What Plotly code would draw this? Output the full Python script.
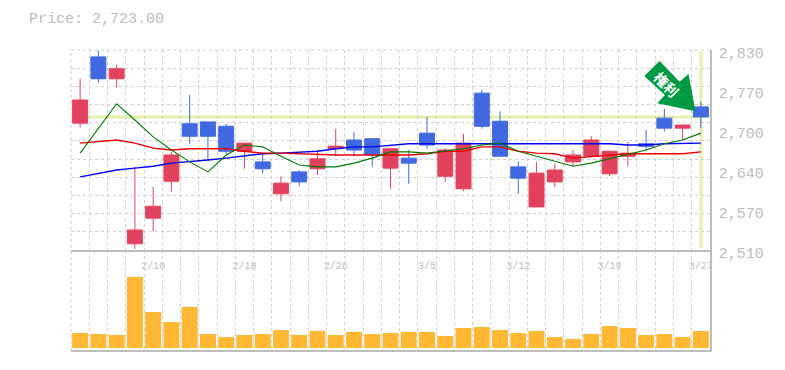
import plotly.graph_objects as go

# --- data ---
dates = ["2/10", "2/18", "2/26", "3/5", "3/12", "3/19", "3/27"]
date_positions = [4, 9, 14, 19, 24, 29, 34]
price_ticks = [2830, 2766, 2702, 2638, 2574, 2510]
price_tick_text = ["2,830", "2,770", "2,700", "2,640", "2,570", "2,510"]

highs = [2784, 2829, 2806, 2643, 2611, 2667, 2758, 2715, 2712, 2681, 2665, 2628,
         2638, 2670, 2704, 2699, 2689, 2672, 2670, 2723, 2673, 2696, 2766, 2732,
         2652, 2651, 2648, 2670, 2692, 2668, 2683, 2702, 2736, 2710, 2747]
opens = [2713, 2819, 2784, 2520, 2561, 2620, 2712, 2715, 2708, 2668, 2651, 2600,
         2635, 2640, 2672, 2686, 2688, 2641, 2657, 2697, 2628, 2608, 2761, 2716,
         2643, 2579, 2619, 2651, 2660, 2632, 2660, 2680, 2721, 2705, 2739]
closes = [2750, 2784, 2800, 2542, 2580, 2662, 2692, 2692, 2668, 2681, 2640, 2617,
          2619, 2656, 2676, 2670, 2662, 2672, 2649, 2678, 2670, 2681, 2708, 2660,
          2625, 2633, 2638, 2662, 2686, 2668, 2665, 2676, 2705, 2710, 2723]
lows = [2706, 2778, 2770, 2512, 2540, 2604, 2680, 2654, 2664, 2640, 2633, 2588,
        2612, 2630, 2660, 2660, 2643, 2608, 2616, 2672, 2619, 2604, 2704, 2660,
        2600, 2579, 2611, 2643, 2660, 2628, 2644, 2668, 2700, 2686, 2705]
ma_short = [2665, 2704, 2744, 2718, 2691, 2670, 2651, 2635, 2662, 2678, 2675, 2660,
            2646, 2643, 2643, 2649, 2657, 2667, 2667, 2665, 2668, 2672, 2678, 2681,
            2668, 2660, 2652, 2644, 2649, 2656, 2664, 2670, 2680, 2686, 2697]
ma_mid = [2681, 2683, 2686, 2681, 2673, 2670, 2672, 2672, 2672, 2668, 2665, 2665,
          2664, 2662, 2662, 2662, 2662, 2662, 2662, 2664, 2668, 2668, 2675, 2675,
          2668, 2665, 2664, 2657, 2660, 2662, 2664, 2664, 2664, 2664, 2667]
ma_long = [2627, 2633, 2638, 2641, 2644, 2649, 2651, 2654, 2657, 2660, 2664, 2665,
           2667, 2668, 2672, 2675, 2675, 2678, 2680, 2680, 2680, 2681, 2681, 2681,
           2681, 2681, 2681, 2680, 2680, 2680, 2678, 2678, 2680, 2680, 2681]
volumes = [15, 14, 13, 71, 36, 26, 41, 14, 11, 13, 14, 18, 13, 17, 13, 16, 14, 15,
           16, 16, 12, 20, 21, 18, 15, 17, 11, 9, 14, 22, 20, 13, 14, 11, 17]
last_price = 2723
badge_text = "権利"

idx = list(range(len(closes)))
W, H = 785, 370
L, R, T, B = 70.5, 710.5, 50, 350
MONO = "Liberation Mono"
GREY = "#bdbdbd"
GRID = "#cfcfcf"
DASH = "3px,3px"


def px(x):
    return (x - L) / (R - L)


def py(y):
    return (B - y) / (B - T)


x_grid = [i - 0.5 for i in range(len(closes) + 1)]
y_grid = [2510 + k * 320 / 11 for k in range(12)]

fig = go.Figure()
for vals, color, width in [(ma_long, "#0000f0", 1.4), (ma_mid, "#f00000", 1.4), (ma_short, "#007a00", 1.1)]:
    fig.add_trace(go.Scatter(x=idx, y=vals, mode="lines", line=dict(color=color, width=width),
                             hoverinfo="skip", showlegend=False, xaxis="x", yaxis="y"))
fig.add_trace(go.Candlestick(
    x=idx, open=opens, high=highs, low=lows, close=closes,
    increasing=dict(line=dict(color="#e3425f", width=1), fillcolor="#e3425f"),
    decreasing=dict(line=dict(color="#4169e1", width=1), fillcolor="#4169e1"),
    whiskerwidth=0, showlegend=False, xaxis="x", yaxis="y"))
fig.add_trace(go.Bar(x=idx, y=volumes, marker=dict(color="#ffb833", line=dict(width=0)),
                     showlegend=False, xaxis="x2", yaxis="y2"))

arrow = [(660, 61), (644.7, 76), (665.3, 95), (657.7, 103.3), (696, 111.3), (689, 74), (680, 81.7)]
arrow_path = "M " + " L ".join(f"{px(a):.5f},{py(b):.5f}" for a, b in arrow) + " Z"

fig.update_layout(
    width=W, height=H, paper_bgcolor="white", plot_bgcolor="white",
    margin=dict(l=L, r=W - R, t=T, b=H - B, pad=0),
    showlegend=False, boxgap=0.18, boxgroupgap=0, bargap=0.125,
    title=dict(text="Price: 2,723.00", x=29 / W, xanchor="left", xref="container",
               y=1 - 18 / H, yanchor="middle", yref="container",
               font=dict(family=MONO, size=15, color=GREY)),
    xaxis=dict(domain=[0, 1], range=[-0.5, 34.5], anchor="y", rangeslider=dict(visible=False),
               automargin=False,
               tickmode="array", tickvals=date_positions, ticktext=dates, showgrid=False,
               ticks="outside", ticklen=5, tickcolor="rgba(0,0,0,0)", zeroline=False,
               tickfont=dict(family=MONO, size=10, color=GREY),
               showline=True, linecolor=GREY, linewidth=1.5,
               minor=dict(tickmode="array", tickvals=x_grid, showgrid=True, gridcolor=GRID,
                          griddash=DASH, gridwidth=1, ticks="")),
    yaxis=dict(domain=[py(250), 1], range=[2510, 2830], side="right", anchor="x",
               automargin=False,
               tickmode="array", tickvals=price_ticks, ticktext=price_tick_text, showgrid=False,
               ticks="outside", ticklen=4, tickcolor="rgba(0,0,0,0)", zeroline=False,
               tickfont=dict(family=MONO, size=15, color=GREY), ticklabelshift=3,
               showline=True, linecolor=GREY, linewidth=1.5,
               minor=dict(tickmode="array", tickvals=y_grid, showgrid=True, gridcolor=GRID,
                          griddash=DASH, gridwidth=1, ticks="")),
    xaxis2=dict(domain=[0, 1], range=[-0.5, 34.5], anchor="y2", showticklabels=False, ticks="",
                automargin=False,
                showgrid=False, zeroline=False, showline=True, linecolor=GREY, linewidth=1.5,
                tickmode="array", tickvals=[],
                minor=dict(tickmode="array", tickvals=x_grid, showgrid=True, gridcolor=GRID,
                           griddash=DASH, gridwidth=1, ticks="")),
    yaxis2=dict(domain=[0, py(250)], range=[-2, 98], side="right", anchor="x2", showgrid=False,
                automargin=False,
                showticklabels=False, ticks="", zeroline=False,
                showline=True, linecolor=GREY, linewidth=1.5),
    shapes=[
        dict(type="line", xref="paper", yref="paper", x0=0, x1=0, y0=0, y1=1,
             line=dict(color=GRID, width=1, dash=DASH), layer="below"),
        dict(type="line", xref="paper", yref="paper", x0=0, x1=1, y0=1, y1=1,
             line=dict(color=GRID, width=1, dash=DASH), layer="below"),
        dict(type="line", xref="x", yref="y", x0=-0.5, x1=34.5, y0=last_price, y1=last_price,
             line=dict(color="#e3f2a8", width=3), layer="below"),
        dict(type="line", xref="x", yref="y", x0=34, x1=34, y0=2513, y1=2828,
             line=dict(color="#e3f2a8", width=3), layer="below"),
        dict(type="path", xref="paper", yref="paper", path=arrow_path,
             fillcolor="#009944", line=dict(width=0), layer="above"),
    ],
    annotations=[
        dict(text="<b>" + badge_text + "</b>", xref="paper", yref="paper", x=px(667), y=py(83.5),
             showarrow=False, textangle=45,
             font=dict(family="Noto Sans CJK JP", size=14, color="white"),
             xanchor="center", yanchor="middle"),
    ],
)
fig.write_html("out.html", config=dict(displayModeBar=False),
               post_script="document.body.style.margin='0';")
